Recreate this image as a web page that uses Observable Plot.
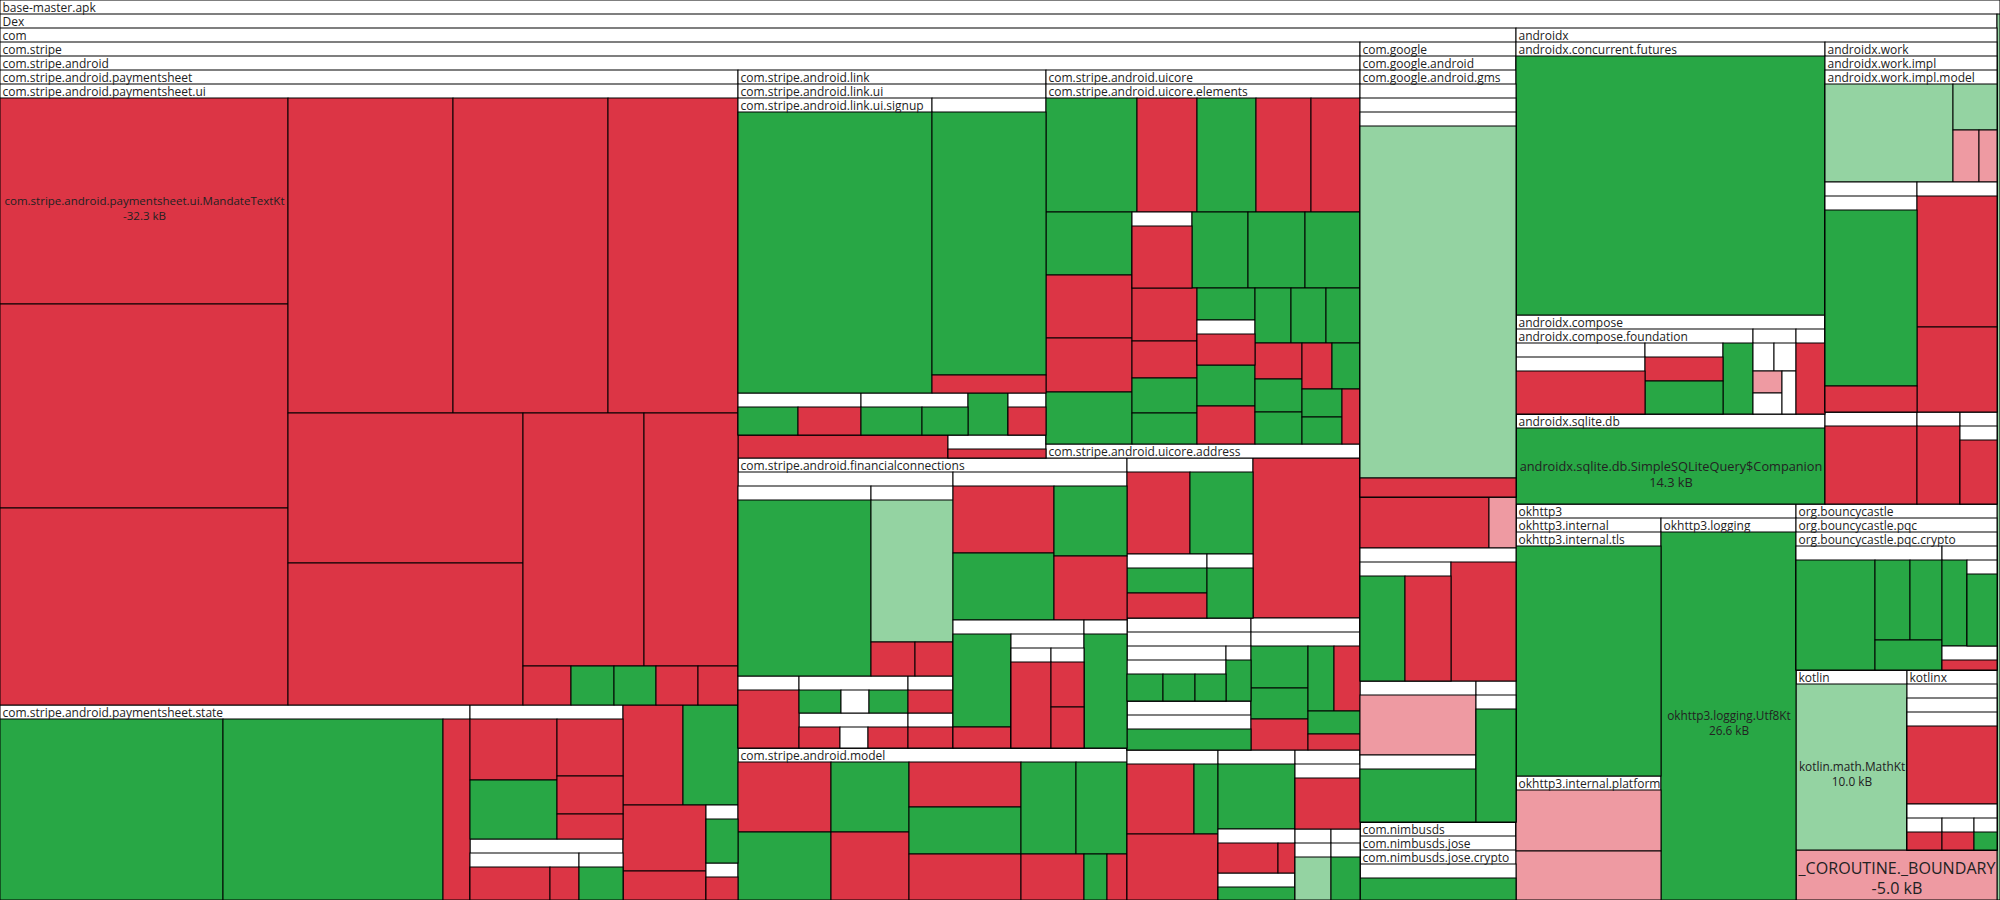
<!DOCTYPE html>
<html><head><meta charset="utf-8">
<script src="https://cdn.jsdelivr.net/npm/d3@7"></script>
<script src="https://cdn.jsdelivr.net/npm/@observablehq/plot@0.6"></script>
<style>html,body{margin:0;padding:0;background:#fff}svg{display:block}</style>
</head><body><div id="chart"></div>
<script>
// Each row: [id, parentId, sizeKB (leaves only), state, name]
// state: r = red, g = green, R = light red, G = light green, w = white, h = layout-only group
const topNodes = [
  ["apk", null, null, "", "base-master.apk"],
  ["dex", "apk", null, "", "Dex"],
  [null, "apk", 1.3, "G", ""],
  ["com", "dex", null, "", "com"],
  ["ax", "dex", null, "", "androidx"],
  ["ok", "dex", null, "", "okhttp3"],
  ["bc", "dex", null, "", "org.bouncycastle"],
  ["kt", "dex", null, "", "kotlin"],
  ["ktx", "dex", null, "", "kotlinx"],
  [null, "dex", 5.0, "R", "_COROUTINE._BOUNDARY"],
  ["stripe", "com", null, "", "com.stripe"],
  ["goog", "com", null, "", "com.google"],
  ["nim", "com", null, "", "com.nimbusds"],
  ["sa", "stripe", null, "", "com.stripe.android"]
];
const paymentsheetNodes = [
  ["ps", "sa", null, "", "com.stripe.android.paymentsheet"],
  ["psui", "ps", null, "", "com.stripe.android.paymentsheet.ui"],
  [null, "psui", 32.3, "r", "com.stripe.android.paymentsheet.ui.MandateTextKt"],
  [null, "psui", 32.0, "r", ""], [null, "psui", 30.9, "r", ""], [null, "psui", 28.3, "r", ""],
  [null, "psui", 26.6, "r", ""], [null, "psui", 22.3, "r", ""], [null, "psui", 19.2, "r", ""],
  [null, "psui", 18.2, "r", ""], [null, "psui", 16.7, "r", ""], [null, "psui", 13.0, "r", ""],
  [null, "psui", 1.02, "r", ""], [null, "psui", 0.91, "g", ""], [null, "psui", 0.89, "g", ""],
  [null, "psui", 0.89, "r", ""], [null, "psui", 0.85, "r", ""],
  ["psst", "ps", null, "", "com.stripe.android.paymentsheet.state"],
  [null, "psst", 23.1, "g", ""], [null, "psst", 22.9, "g", ""], [null, "psst", 2.8, "r", ""],
  ["psae", "ps", null, "", "com.stripe.android.paymentsheet.addresselement"],
  [null, "psae", 3.16, "r", ""], [null, "psae", 3.05, "g", ""], [null, "psae", 2.24, "r", ""],
  [null, "psae", 1.49, "r", ""], [null, "psae", 0.98, "r", ""],
  ["pspd", "ps", null, "", "com.stripe.android.paymentsheet.paymentdatacollection"],
  ["pspd1", "pspd", null, "", "com.stripe.android.paymentsheet.paymentdatacollection.ach"],
  [null, "pspd1", 2.60, "r", ""], [null, "pspd1", 0.94, "r", ""],
  ["pspd2", "pspd", null, "", "com.stripe.android.paymentsheet.paymentdatacollection.polling"],
  [null, "pspd2", 1.43, "g", ""],
  [null, "ps", 3.19, "r", ""], [null, "ps", 2.93, "g", ""], [null, "ps", 2.91, "r", ""], [null, "ps", 1.28, "r", ""],
  ["psf", "ps", null, "", "com.stripe.android.paymentsheet.flowcontroller"], [null, "psf", 0.99, "g", ""],
  ["psn", "ps", null, "", "com.stripe.android.paymentsheet.navigation"], [null, "psn", 0.63, "r", ""]
];
const linkNodes = [
  ["lk", "sa", null, "", "com.stripe.android.link"],
  ["lkui", "lk", null, "", "com.stripe.android.link.ui"],
  ["lksu", "lkui", null, "", "com.stripe.android.link.ui.signup"], [null, "lksu", 32.2, "g", ""],
  ["lkwal", "lkui", null, "", "com.stripe.android.link.ui.wallet"], [null, "lkwal", 17.9, "g", ""], [null, "lkwal", 1.17, "r", ""],
  ["lkg1", "lkui", null, "", "com.stripe.android.link.ui.inline"], [null, "lkg1", 1.43, "g", ""], [null, "lkg1", 1.50, "r", ""],
  ["lkg2", "lkui", null, "", "com.stripe.android.link.ui.verification"], [null, "lkg2", 1.47, "g", ""], [null, "lkg2", 1.09, "g", ""],
  [null, "lkui", 0.97, "g", ""],
  ["lkg3", "lkui", null, "", "com.stripe.android.link.ui.paymentmethod"], [null, "lkg3", 0.90, "r", ""],
  [null, "lk", 2.65, "r", ""],
  ["lkg4", "lk", null, "", "com.stripe.android.link.injection"], [null, "lkg4", 1.23, "r", ""]
];
const uicoreNodes = [
  ["uic", "sa", null, "", "com.stripe.android.uicore"],
  ["uel", "uic", null, "", "com.stripe.android.uicore.elements"],
  [null, "uel", 5.89, "g", ""], [null, "uel", 3.84, "r", ""], [null, "uel", 3.83, "g", ""], [null, "uel", 3.53, "r", ""], [null, "uel", 3.14, "r", ""],
  [null, "uel", 3.07, "g", ""], [null, "uel", 3.07, "r", ""], [null, "uel", 2.59, "r", ""], [null, "uel", 2.57, "g", ""],
  ["uelg", "uel", null, "", "com.stripe.android.uicore.elements.bottomsheet"], [null, "uelg", 2.56, "r", ""],
  [null, "uel", 2.43, "g", ""], [null, "uel", 2.43, "g", ""], [null, "uel", 2.35, "g", ""],
  [null, "uel", 1.91, "r", ""], [null, "uel", 1.36, "r", ""], [null, "uel", 1.29, "g", ""], [null, "uel", 1.14, "g", ""], [null, "uel", 1.04, "g", ""],
  ["uelh", "uel", null, "", "com.stripe.android.uicore.elements.compat"], [null, "uelh", 1.47, "r", ""],
  [null, "uel", 1.35, "g", ""], [null, "uel", 1.24, "r", ""], [null, "uel", 1.13, "g", ""], [null, "uel", 1.07, "g", ""],
  [null, "uel", 1.02, "g", ""], [null, "uel", 0.96, "r", ""], [null, "uel", 0.90, "g", ""], [null, "uel", 0.85, "g", ""],
  [null, "uel", 0.79, "r", ""], [null, "uel", 0.73, "g", ""], [null, "uel", 0.62, "g", ""], [null, "uel", 0.62, "g", ""], [null, "uel", 0.56, "r", ""],
  ["uad", "uic", null, "", "com.stripe.android.uicore.address"], [null, "uad", 2.36, "w", ""]
];
const finNodes = [
  ["fin", "sa", null, "", "com.stripe.android.financialconnections"],
  ["fa", "fin", null, "", "com.stripe.android.financialconnections.features.accountpicker"],
  ["fa1", "fa", null, "", "com.stripe.android.financialconnections.features.consent"], [null, "fa1", 14.6, "g", ""],
  ["fa2", "fa", null, "", "com.stripe.android.financialconnections.features.common"],
  [null, "fa2", 7.29, "G", ""], [null, "fa2", 0.94, "r", ""], [null, "fa2", 0.83, "r", ""],
  ["fa3", "fa", null, "", "com.stripe.android.financialconnections.features.success"], [null, "fa3", 2.54, "r", ""],
  ["fa4", "fa", null, "", "com.stripe.android.financialconnections.features.institutionpicker"],
  [null, "fa4", 0.90, "g", ""], [null, "fa4", 0.6, "w", ""], [null, "fa4", 0.85, "g", ""],
  ["fa5", "fa", null, "", "com.stripe.android.financialconnections.features.partnerauth"],
  [null, "fa5", 0.82, "r", ""], [null, "fa5", 0.55, "w", ""], [null, "fa5", 0.80, "r", ""],
  ["fa6", "fa", null, "", "com.stripe.android.financialconnections.features.manualentry"], [null, "fa6", 0.96, "r", ""],
  ["fa7", "fa", null, "", "com.stripe.android.financialconnections.features.reset"], [null, "fa7", 0.92, "r", ""],
  ["fb", "fin", null, "", "com.stripe.android.financialconnections.ui.components"],
  ["fbq", "fb", null, "h", ""],
  [null, "fbq", 3.94, "r", ""], [null, "fbq", 3.93, "g", ""], [null, "fbq", 2.96, "g", ""], [null, "fbq", 2.71, "r", ""],
  ["fbr", "fb", null, "h", ""],
  ["fb1", "fbr", null, "", "com.stripe.android.financialconnections.ui.theme"],
  [null, "fb1", 3.48, "g", ""], [null, "fb1", 0.80, "r", ""],
  ["fb1a", "fb1", null, "", "com.stripe.android.financialconnections.ui.theme.colors"],
  ["fb1a1", "fb1a", null, "", "com.stripe.android.financialconnections.ui.theme.colors.dark"], [null, "fb1a1", 2.95, "r", ""],
  ["fb1a2", "fb1a", null, "", "com.stripe.android.financialconnections.ui.theme.colors.light"], [null, "fb1a2", 1.25, "r", ""], [null, "fb1a2", 1.16, "r", ""],
  ["fb2", "fbr", null, "", "com.stripe.android.financialconnections.ui.components.image"], [null, "fb2", 3.21, "g", ""]
];
const modelNodes = [
  ["mdl", "sa", null, "", "com.stripe.android.model"],
  [null, "mdl", 3.76, "r", ""], [null, "mdl", 3.66, "g", ""], [null, "mdl", 3.15, "g", ""], [null, "mdl", 3.06, "r", ""],
  [null, "mdl", 2.91, "r", ""], [null, "mdl", 2.98, "g", ""], [null, "mdl", 2.98, "r", ""], [null, "mdl", 2.89, "g", ""],
  [null, "mdl", 2.73, "g", ""], [null, "mdl", 1.68, "r", ""], [null, "mdl", 0.62, "g", ""], [null, "mdl", 0.54, "r", ""]
];
const stripeMiscNodes = [
  ["c1", "sa", null, "", "com.stripe.android.core.networking"],
  [null, "c1", 2.93, "r", ""], [null, "c1", 2.93, "g", ""],
  ["c1s", "c1", null, "", "com.stripe.android.core.networking.retry"], [null, "c1s", 1.45, "g", ""], [null, "c1s", 1.48, "r", ""],
  ["c1w", "c1", null, "", "com.stripe.android.core.networking.interceptors"], [null, "c1w", 1.70, "g", ""],
  [null, "sa", 8.95, "r", ""],
  ["c3", "sa", null, "", "com.stripe.android.core.model"],
  ["c3a", "c3", null, "", "com.stripe.android.core.model.serializers"],
  ["t1", "c3a", null, "", "com.stripe.android.core.model.serializers.json"],
  ["t1a", "t1", null, "", "com.stripe.android.core.model.serializers.json.internal"],
  [null, "t1a", 1.43, "g", ""], [null, "t1a", 1.31, "g", ""], [null, "t1a", 1.23, "g", ""],
  ["t2", "c3a", null, "", "com.stripe.android.core.model.serializers.util"], [null, "t2", 1.04, "g", ""],
  ["u", "c3", null, "", "com.stripe.android.core.model.parsers"],
  ["u2", "u", null, "", "com.stripe.android.core.model.parsers.internal"], [null, "u2", 3.55, "g", ""],
  ["c4", "sa", null, "", "com.stripe.android.core.exception"],
  ["v", "c4", null, "", "com.stripe.android.core.exception.internal"],
  [null, "v", 1.58, "g", ""], [null, "v", 1.20, "g", ""], [null, "v", 1.16, "r", ""], [null, "v", 1.11, "g", ""],
  [null, "v", 1.11, "r", ""], [null, "v", 0.78, "g", ""], [null, "v", 0.53, "r", ""],
  ["crow", "sa", null, "h", ""],
  ["c5", "crow", null, "", "com.stripe.android.googlepaylauncher"],
  [null, "c5", 2.71, "r", ""], [null, "c5", 1.00, "g", ""], [null, "c5", 3.44, "r", ""],
  ["c6", "crow", null, "", "com.stripe.android.customersheet"], [null, "c6", 2.89, "g", ""],
  ["w6", "c6", null, "", "com.stripe.android.customersheet.injection"], [null, "w6", 1.51, "r", ""], [null, "w6", 0.45, "r", ""],
  ["x6", "c6", null, "", "com.stripe.android.customersheet.util"], [null, "x6", 1.22, "g", ""],
  ["c7", "crow", null, "", "com.stripe.android.cards"],
  ["z7", "c7", null, "", "com.stripe.android.cards.internal"], [null, "z7", 2.40, "r", ""],
  ["y71", "c7", null, "", "com.stripe.android.cards.bin"], ["y71a", "y71", null, "", "com.stripe.android.cards.bin.range"], [null, "y71a", 1.46, "G", ""],
  ["y72", "c7", null, "", "com.stripe.android.cards.brand"], ["y72a", "y72", null, "", "com.stripe.android.cards.brand.icons"], [null, "y72a", 1.18, "g", ""]
];
const googleNodes = [
  ["gand", "goog", null, "", "com.google.android"],
  ["gms", "gand", null, "", "com.google.android.gms"],
  ["g1", "gms", null, "", "com.google.android.gms.internal"],
  ["g1a", "g1", null, "", "com.google.android.gms.internal.measurement"],
  ["g1b", "g1a", null, "", "com.google.android.gms.internal.measurement.zzpc"],
  [null, "g1b", 32.7, "G", ""], [null, "g1b", 1.75, "r", ""],
  [null, "gms", 3.55, "r", ""], [null, "gms", 0.74, "R", ""],
  ["g3", "gms", null, "", "com.google.android.gms.measurement"],
  ["g3a", "g3", null, "", "com.google.android.gms.measurement.internal"], [null, "g3a", 3.2, "g", ""], [null, "g3a", 3.25, "r", ""],
  [null, "g3", 4.6, "r", ""],
  ["g4a", "gms", null, "", "com.google.android.gms.common.internal"], [null, "g4a", 4.2, "R", ""],
  ["g4as", "g4a", null, "", "com.google.android.gms.common.internal.safeparcel"], [null, "g4as", 4.6, "g", ""],
  ["g4b", "gms", null, "", "com.google.android.gms.tasks"],
  ["g4bs", "g4b", null, "", "com.google.android.gms.tasks.internal"], [null, "g4bs", 2.95, "g", ""],
  ["nj", "nim", null, "", "com.nimbusds.jose"],
  ["njc", "nj", null, "", "com.nimbusds.jose.crypto"],
  ["njcs", "njc", null, "", "com.nimbusds.jose.crypto.impl.utils"], [null, "njcs", 6.19, "g", ""]
];
const androidxNodes = [
  ["axl", "ax", null, "h", ""],
  ["fut", "axl", null, "", "androidx.concurrent.futures"], [null, "fut", 43.4, "g", ""],
  ["cmp", "axl", null, "", "androidx.compose"],
  ["fnd", "cmp", null, "", "androidx.compose.foundation"],
  ["f1", "fnd", null, "", "androidx.compose.foundation.lazy"],
  ["f1a", "f1", null, "", "androidx.compose.foundation.lazy.layout"], [null, "f1a", 6.57, "r", ""],
  ["f2", "fnd", null, "", "androidx.compose.foundation.text"], [null, "f2", 1.67, "r", ""], [null, "f2", 2.30, "g", ""],
  [null, "fnd", 1.48, "g", ""],
  ["cg2", "cmp", null, "", "androidx.compose.material"],
  [null, "cg2", 0.43, "w", ""], [null, "cg2", 0.43, "w", ""], [null, "cg2", 0.46, "R", ""], [null, "cg2", 0.43, "w", ""], [null, "cg2", 0.43, "w", ""],
  ["cg3", "cmp", null, "", "androidx.compose.ui"], [null, "cg3", 1.48, "r", ""],
  ["sql", "axl", null, "", "androidx.sqlite.db"], [null, "sql", 14.3, "g", "androidx.sqlite.db.SimpleSQLiteQuery$Companion"],
  ["axr", "ax", null, "h", ""],
  ["wrk", "axr", null, "", "androidx.work"],
  ["wimp", "wrk", null, "", "androidx.work.impl"],
  ["wmod", "wimp", null, "", "androidx.work.impl.model"],
  [null, "wmod", 7.95, "G", ""], [null, "wmod", 1.28, "G", ""], [null, "wmod", 0.86, "R", ""], [null, "wmod", 0.59, "R", ""],
  ["wpq", "wimp", null, "h", ""],
  ["wp", "wpq", null, "", "androidx.work.impl.background"],
  ["wp1", "wp", null, "", "androidx.work.impl.background.systemalarm"], [null, "wp1", 10.3, "g", ""], [null, "wp1", 1.51, "r", ""],
  ["wq", "wpq", null, "", "androidx.work.impl.utils"], [null, "wq", 6.19, "r", ""], [null, "wq", 4.02, "r", ""],
  ["axb", "axr", null, "h", ""],
  ["ag1", "axb", null, "", "androidx.lifecycle"], [null, "ag1", 4.34, "r", ""],
  ["ag2", "axb", null, "", "androidx.core"], [null, "ag2", 2.03, "r", ""],
  ["ag3", "axb", null, "", "androidx.activity"], ["ag3s", "ag3", null, "", "androidx.activity.result"], [null, "ag3s", 1.75, "r", ""]
];
const okhttpNodes = [
  ["oki", "ok", null, "", "okhttp3.internal"],
  ["tls", "oki", null, "", "okhttp3.internal.tls"], [null, "tls", 19.0, "g", ""],
  ["plat", "oki", null, "", "okhttp3.internal.platform"], [null, "plat", 5.38, "R", ""], [null, "plat", 4.32, "R", ""],
  ["olog", "ok", null, "", "okhttp3.logging"], [null, "olog", 26.6, "g", "okhttp3.logging.Utf8Kt"]
];
const otherNodes = [
  ["pqc", "bc", null, "", "org.bouncycastle.pqc"],
  ["pqcc", "pqc", null, "", "org.bouncycastle.pqc.crypto"],
  ["b1", "pqcc", null, "", "org.bouncycastle.pqc.crypto.crystals.dilithium"],
  [null, "b1", 6.52, "g", ""], [null, "b1", 2.10, "g", ""], [null, "b1", 1.92, "g", ""], [null, "b1", 1.51, "g", ""],
  ["b2", "pqcc", null, "", "org.bouncycastle.pqc.crypto.util"], [null, "b2", 1.61, "g", ""],
  ["b2a", "b2", null, "", "org.bouncycastle.pqc.crypto.util.internal"], [null, "b2a", 1.94, "g", ""],
  ["b2b", "b2", null, "", "org.bouncycastle.pqc.crypto.util.asn1"], [null, "b2b", 0.99, "r", ""],
  [null, "kt", 10.0, "G", "kotlin.math.MathKt"],
  ["k1", "ktx", null, "", "kotlinx.coroutines"],
  ["k2", "k1", null, "", "kotlinx.coroutines.internal"],
  ["k3", "k2", null, "", "kotlinx.coroutines.internal.channels"],
  [null, "k3", 5.08, "r", ""],
  ["k4", "k3", null, "", "kotlinx.coroutines.internal.channels.flow"],
  ["k4a", "k4", null, "", "kotlinx.coroutines.internal.channels.flow.a"], [null, "k4a", 1.16, "r", ""],
  ["k4b", "k4", null, "", "kotlinx.coroutines.internal.channels.flow.b"], [null, "k4b", 1.06, "r", ""],
  ["k4c", "k4", null, "", "kotlinx.coroutines.internal.channels.flow.c"], [null, "k4c", 0.76, "g", ""]
];
// groups whose children are laid out side by side / stacked instead of squarified
const diceGroups = ["ax", "axb", "crow", "wpq", "fin", "g3", "g3a", "fbr"];
const sliceGroups = ["axl", "axr", "wimp", "g4a", "fb"];
const palette = {r: "#dc3545", g: "#28a745", R: "#ee9aa2", G: "#94d3a2", w: "#ffffff"};

const W = 2000, H = 900, HEADER = 14;
const rows = [...topNodes, ...paymentsheetNodes, ...linkNodes, ...uicoreNodes, ...finNodes, ...modelNodes,
  ...stripeMiscNodes, ...googleNodes, ...androidxNodes, ...okhttpNodes, ...otherNodes];
const byId = new Map(); let rootData = null;
for (const [id, parent, kb, state, name] of rows) {
  const n = {id, kb, state, name, children: []};
  if (id) byId.set(id, n);
  if (parent === null) rootData = n; else byId.get(parent).children.push(n);
}
const root = d3.hierarchy(rootData, d => d.children.length ? d.children : null)
  .sum(d => d.children.length ? 0 : d.kb);
const tile = (node, x0, y0, x1, y1) => {
  const id = node.data.id;
  const t = diceGroups.includes(id) ? d3.treemapDice : sliceGroups.includes(id) ? d3.treemapSlice : d3.treemapSquarify;
  t(node, x0, y0, x1, y1);
};
d3.treemap().size([W, H]).tile(tile).paddingTop(d => d.data.state === "h" ? 0 : HEADER).round(true)(root);

const ctx = document.createElement("canvas").getContext("2d");
const FONT = '"Open Sans", "Noto Sans", sans-serif';
function textWidth(s, size) { ctx.font = `${size}px ${FONT}`; return ctx.measureText(s).width; }

const shown = root.descendants().filter(d => d.data.state !== "h" && d.y1 - d.y0 >= 1 && d.x1 - d.x0 >= 1);
const headers = shown.filter(d => d.children && textWidth(d.data.name, 12) + 3 <= d.x1 - d.x0);
const leafLabels = shown.filter(d => !d.children && d.data.name).map(d => {
  const w = d.x1 - d.x0, name = d.data.name;
  const fs = Math.min(w / (name.length * 0.52), 0.98 * w * 12 / textWidth(name, 12), 22);
  let y1 = (d.y0 + d.y1) / 2, y2 = y1 + 1.25 * fs;
  const over = y2 + 0.7 * fs - d.y1;
  if (over > 0) { y1 -= over; y2 -= over; }
  const neg = d.data.state === "r" || d.data.state === "R";
  return {cx: (d.x0 + d.x1) / 2, y1, y2, fs, name, size: (neg ? "-" : "") + d.data.kb.toFixed(1) + " kB"};
});

const chart = Plot.plot({
  width: W, height: H, margin: 0,
  style: {fontFamily: FONT, background: "#fff"},
  x: {domain: [0, W], range: [0, W], axis: null},
  y: {domain: [0, H], range: [0, H], axis: null},
  color: {type: "identity"},
  marks: [
    Plot.rect(shown, {x1: d => d.x0, x2: d => d.x1, y1: d => d.y0, y2: d => d.y1,
      fill: d => d.children ? "#ffffff" : palette[d.data.state], stroke: "#000", strokeWidth: 1}),
    Plot.text(headers, {x: d => d.x0 + 2, y: d => d.y0 + 7.5, text: d => d.data.name, textAnchor: "start", fontSize: 12, fill: "#222"}),
    Plot.text(leafLabels, {x: "cx", y: "y1", text: "name", fontSize: d => d.fs, fill: "#222"}),
    Plot.text(leafLabels, {x: "cx", y: "y2", text: "size", fontSize: d => d.fs, fill: "#222"})
  ]
});
document.getElementById("chart").appendChild(chart);
</script>
</body></html>
